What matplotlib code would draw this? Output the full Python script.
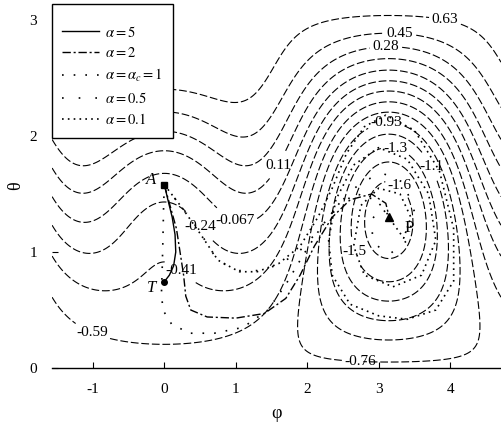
import numpy as np
import matplotlib.pyplot as plt

plt.rcParams['font.family'] = ['Liberation Serif', 'DejaVu Serif']
plt.rcParams['mathtext.fontset'] = 'stix'
plt.rcParams['axes.unicode_minus'] = False

# energy surface E(phi, theta): easy axis along x plus an applied field
aniso = 0.9
h_x = 0.75
h_z = 0.72

levels = [-1.62, -1.45, -1.28, -1.1, -0.93, -0.76, -0.59, -0.41, -0.24, -0.067, 0.11, 0.28, 0.45, 0.63]
level_text = ['-1.6', '-1.5', '-1.3', '-1.1', '-0.93', '-0.76', '-0.59', '-0.41', '-0.24', '-0.067',
              '0.11', '0.28', '0.45', '0.63']
label_phi = [3.35, 2.75, 3.25, 3.85, 3.1, 2.75, -1.0, 0.45, 0.62, 1.05, 1.45, 3.1, 3.3, 3.95]
label_theta = [1.62, 1.02, 1.92, 1.77, 2.15, 0.08, 0.32, 0.99, 1.28, 1.36, 1.8, 2.78, 2.9, 3.06]

# trajectories for each damping value
a5_phi = [0.0, 0.05, 0.11, 0.15, 0.16, 0.13, 0.07, 0.02, 0.0]
a5_theta = [1.58, 1.45, 1.3, 1.15, 1.0, 0.88, 0.8, 0.76, 0.74]

a2_phi = [0.0, 0.08, 0.17, 0.22, 0.27, 0.3, 0.37, 0.6, 1.0, 1.4, 1.7, 1.9, 2.1, 2.35, 2.6, 2.9, 3.1, 3.14]
a2_theta = [1.58, 1.4, 1.2, 1.0, 0.8, 0.62, 0.5, 0.44, 0.43, 0.47, 0.6, 0.8, 1.05, 1.3, 1.45, 1.5, 1.42, 1.32]

ac_phi = [0.0, -0.01, -0.02, -0.03, -0.04, -0.02, 0.1, 0.35, 0.7, 1.1, 1.45, 1.7, 1.95, 2.2, 2.45,
          2.7, 2.95, 3.1, 3.14]
ac_theta = [1.58, 1.4, 1.1, 0.85, 0.65, 0.5, 0.38, 0.3, 0.3, 0.35, 0.5, 0.72, 0.98, 1.22, 1.42,
            1.5, 1.45, 1.36, 1.3]

a05_phi = [0.0, 0.2, 0.47, 0.75, 1.05, 1.3, 1.55, 1.85, 2.15, 2.45, 2.75, 3.05, 3.35, 3.5, 3.4,
           3.15, 2.92, 2.9, 3.05, 3.14]
a05_theta = [1.58, 1.42, 1.2, 0.92, 0.84, 0.84, 0.88, 0.98, 1.18, 1.42, 1.6, 1.68, 1.6, 1.35, 1.1,
             0.98, 1.08, 1.28, 1.38, 1.3]

a01_phi = [0.0, 0.25, 0.5, 0.75, 1.05, 1.3, 1.6, 1.9, 2.15, 2.35, 2.55, 2.8, 3.1, 3.5, 3.85, 4.05,
           4.05, 3.8, 3.4, 3.0, 2.6, 2.35, 2.3, 2.4, 2.65, 3.0, 3.4, 3.7, 3.8, 3.6, 3.2, 2.8, 2.65,
           2.75, 3.0, 3.3, 3.45, 3.35, 3.14]
a01_theta = [1.58, 1.38, 1.16, 0.93, 0.83, 0.83, 0.9, 1.05, 1.3, 1.55, 1.85, 2.08, 2.18, 2.05, 1.7,
             1.2, 0.75, 0.5, 0.42, 0.45, 0.55, 0.8, 1.1, 1.45, 1.75, 1.9, 1.8, 1.5, 1.1, 0.8, 0.7,
             0.8, 1.05, 1.4, 1.55, 1.5, 1.3, 1.12, 1.3]

point_A = (0.0, 1.58)
point_T = (0.0, 0.74)
point_P = (np.pi, 1.3)

phi = np.linspace(-np.pi / 2, 3 * np.pi / 2, 500)
theta = np.linspace(0, np.pi, 400)
PHI, TH = np.meshgrid(phi, theta)
E = (-aniso * np.sin(TH) ** 2 * np.cos(PHI) ** 2
     + h_x * np.sin(TH) * np.cos(PHI) - h_z * np.cos(TH))

fig = plt.figure(figsize=(5.01, 4.23), dpi=100)
ax = fig.add_axes([0.104, 0.130, 0.896, 0.8615])

# one contour set per level so each label lands on its own curve
for lev, txt, x, y in zip(levels, level_text, label_phi, label_theta):
    cs = ax.contour(PHI, TH, E, levels=[lev], colors='k', linewidths=0.8,
                    linestyles=[(0, (7, 2.5))])
    labels = ax.clabel(cs, manual=[(x, y)], fmt={lev: txt},
                       inline=True, inline_spacing=3, fontsize=11)
    for t in labels:
        t.set_rotation(0)

ax.plot(a5_phi, a5_theta, 'k-', lw=1.0, label=r'$\alpha=5$')
ax.plot(a2_phi, a2_theta, color='k', lw=1.0, ls=(0, (6, 2, 1.5, 2)), label=r'$\alpha=2$')
ax.plot(ac_phi, ac_theta, color='k', lw=1.2, ls=(0, (1, 6)), label=r'$\alpha=\alpha_c=1$')
ax.plot(a05_phi, a05_theta, color='k', lw=1.2, ls=(0, (1, 9)), label=r'$\alpha=0.5$')
ax.plot(a01_phi, a01_theta, color='k', lw=1.2, ls=(0, (1, 2.5)), label=r'$\alpha=0.1$')

ax.plot(*point_A, 'ks', ms=4)
ax.plot(*point_T, 'ko', ms=4)
ax.plot(*point_P, 'k^', ms=6)
ax.text(-0.18, 1.62, 'A', style='italic', fontsize=12, ha='center', va='center')
ax.text(-0.18, 0.69, 'T', style='italic', fontsize=12, ha='center', va='center')
ax.text(3.42, 1.21, 'P', fontsize=12, ha='center', va='center')

ax.set_xlim(-np.pi / 2, 3 * np.pi / 2)
ax.set_ylim(0, np.pi)
ax.set_xticks([-1, 0, 1, 2, 3, 4])
ax.set_yticks([0, 1, 2, 3])
for side in ['left', 'top', 'right']:
    ax.spines[side].set_visible(False)
ax.spines['bottom'].set_linewidth(1.0)
ax.tick_params(direction='in', length=4, labelsize=11, pad=11)
ax.tick_params(axis='y', pad=11)
ax.set_xlabel('φ', fontsize=13, labelpad=6)
ax.set_ylabel('θ', fontsize=13, labelpad=4)

leg = ax.legend(loc='upper left', bbox_to_anchor=(0, 1), borderaxespad=0, fontsize=10.5,
                frameon=True, fancybox=False, framealpha=1, edgecolor='k',
                title=' ', title_fontsize=3,
                handlelength=2.5, handletextpad=0.4, labelspacing=0.46, borderpad=0.7)
leg.get_frame().set_linewidth(1.0)

fig.savefig('out.png', dpi=100)
